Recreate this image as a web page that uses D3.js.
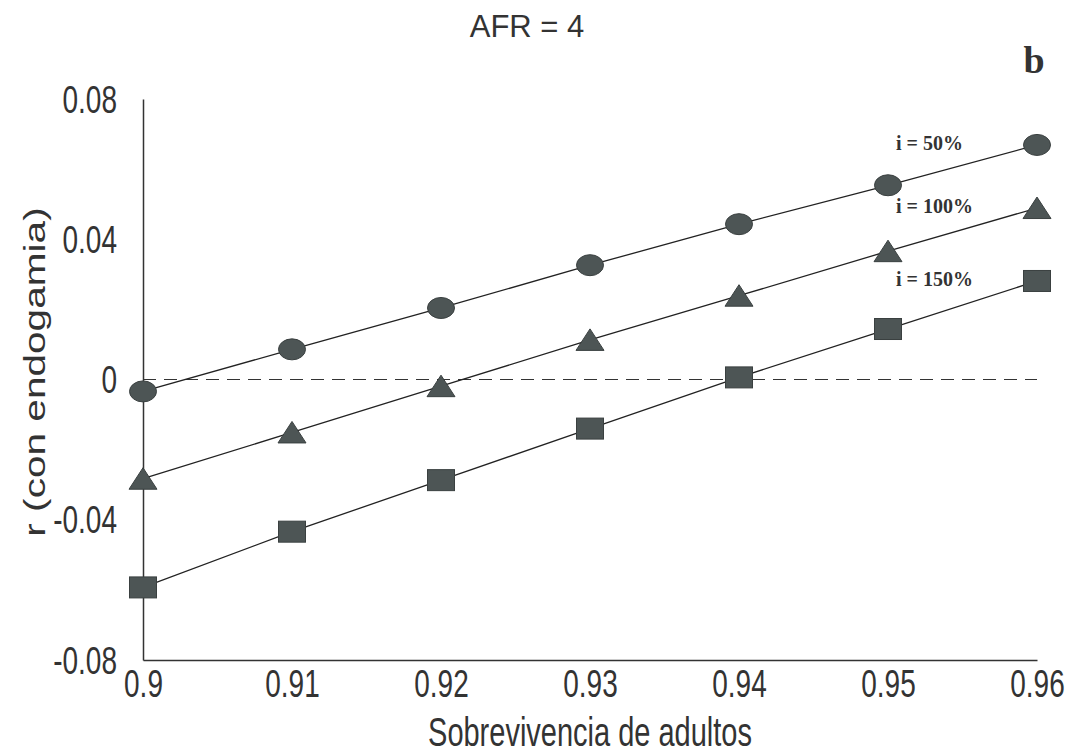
<!DOCTYPE html>
<html>
<head>
<meta charset="utf-8">
<script src="https://cdn.jsdelivr.net/npm/d3@7"></script>
<style>
  body { margin: 0; background: #fff; }
  text { fill: #333; }
</style>
</head>
<body>
<svg id="chart" width="1067" height="756"></svg>
<script>
// values
var survival = [0.9, 0.91, 0.92, 0.93, 0.94, 0.95, 0.96];
var rI50 = [-0.0034, 0.0086, 0.0204, 0.0326, 0.0443, 0.0554, 0.0669];
var rI100 = [-0.0283, -0.0151, -0.0019, 0.0113, 0.0239, 0.0366, 0.0489];
var rI150 = [-0.0593, -0.0434, -0.0287, -0.014, 0.0006, 0.0144, 0.0281];
var seriesLabels = ["i = 50%", "i = 100%", "i = 150%"];
var yTicks = [-0.08, -0.04, 0, 0.04, 0.08];
var xTicks = [0.9, 0.91, 0.92, 0.93, 0.94, 0.95, 0.96];

function init() {
  var svg = d3.select("#chart");
  var fill = "#4d5555";
  var sans = "Liberation Sans, Arial, sans-serif";
  var serif = "Liberation Serif, Times New Roman, serif";
  var stretch = 1.4; // the scanned labels are taller than wide

  var x = d3.scaleLinear().domain([0.9, 0.96]).range([143, 1037]);
  var y = d3.scaleLinear().domain([-0.08, 0.08]).range([660, 99]);

  var xAxis = d3.axisBottom(x).tickValues(xTicks).tickSize(0)
    .tickFormat(function (d) { return String(+d.toFixed(2)); });
  var yAxis = d3.axisLeft(y).tickValues(yTicks).tickSize(0).tickPadding(26)
    .tickFormat(function (d) { return d === 0 ? "0" : d.toFixed(2); });

  var gx = svg.append("g")
    .attr("transform", "translate(0," + y(-0.08) + ")")
    .call(xAxis);
  var gy = svg.append("g")
    .attr("transform", "translate(" + x(0.9) + ",0)")
    .call(yAxis);

  [gx, gy].forEach(function (g) {
    g.select(".domain").attr("stroke", "#333").attr("stroke-width", 1.5);
    g.selectAll("text")
      .attr("fill", "#333")
      .attr("dy", 0)
      .attr("transform", "scale(1," + stretch + ")")
      .style("font-family", sans)
      .style("font-size", "28px");
  });
  gx.selectAll("text").attr("y", 37 / stretch);
  gy.selectAll("text").attr("y", 13 / stretch);

  // dashed zero line
  svg.append("line")
    .attr("x1", x(0.9)).attr("x2", x(0.96))
    .attr("y1", y(0)).attr("y2", y(0))
    .attr("stroke", "#333").attr("stroke-width", 1.2)
    .attr("stroke-dasharray", "13,8");

  var series = [
    { name: seriesLabels[0], values: rI50, shape: "circle" },
    { name: seriesLabels[1], values: rI100, shape: "triangle" },
    { name: seriesLabels[2], values: rI150, shape: "square" }
  ];

  var line = d3.line()
    .x(function (d, i) { return x(survival[i]); })
    .y(function (d) { return y(d); });

  series.forEach(function (s) {
    svg.append("path")
      .attr("d", line(s.values))
      .attr("fill", "none")
      .attr("stroke", "#222")
      .attr("stroke-width", 1.3);

    var g = svg.append("g");
    s.values.forEach(function (v, i) {
      var cx = x(survival[i]), cy = y(v);
      if (s.shape === "circle") {
        g.append("ellipse").attr("cx", cx).attr("cy", cy)
          .attr("rx", 13.5).attr("ry", 10.5);
      } else if (s.shape === "triangle") {
        g.append("path")
          .attr("d", "M" + cx + "," + (cy - 11) + "L" + (cx + 14) + "," + (cy + 10.5) +
            "L" + (cx - 14) + "," + (cy + 10.5) + "Z");
      } else {
        g.append("rect").attr("x", cx - 13.5).attr("y", cy - 10.5)
          .attr("width", 27).attr("height", 21);
      }
    });
    g.selectAll("*").attr("fill", fill).attr("stroke", "#3a4040").attr("stroke-width", 1);

    svg.append("text")
      .attr("x", x(0.95) + 8)
      .attr("y", y(s.values[s.values.length - 1]) + 5)
      .style("font-family", serif)
      .style("font-weight", "bold")
      .style("font-size", "20px")
      .attr("fill", "#222")
      .text(s.name);
  });

  svg.append("text")
    .attr("x", 527).attr("y", 37)
    .attr("text-anchor", "middle")
    .style("font-family", sans)
    .style("font-size", "31px")
    .text("AFR = 4");

  svg.append("text")
    .attr("x", 1034).attr("y", 73)
    .attr("text-anchor", "middle")
    .style("font-family", serif)
    .style("font-weight", "bold")
    .style("font-size", "38px")
    .text("b");

  svg.append("text")
    .attr("transform", "translate(590,746) scale(1," + stretch + ")")
    .attr("text-anchor", "middle")
    .style("font-family", sans)
    .style("font-size", "29px")
    .text("Sobrevivencia de adultos");

  svg.append("text")
    .attr("transform", "translate(45,372) rotate(-90) scale(" + stretch + ",1)")
    .attr("text-anchor", "middle")
    .style("font-family", sans)
    .style("font-size", "29px")
    .text("r (con endogamia)");
}

window.addEventListener("DOMContentLoaded", init);
</script>
</body>
</html>
